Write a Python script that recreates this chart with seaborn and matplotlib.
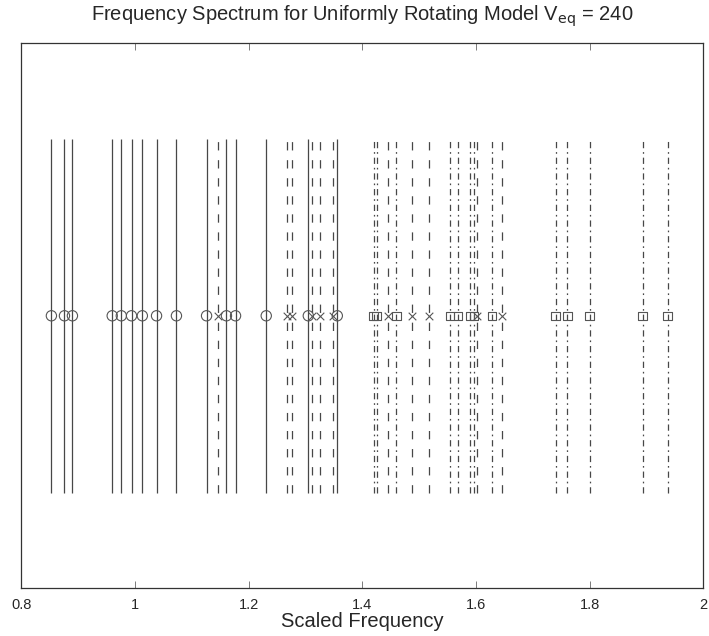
import matplotlib
matplotlib.use("Agg")
import matplotlib.pyplot as plt
import seaborn as sns

# Scaled mode frequencies, grouped by mode family
freq_circle = [0.853, 0.876, 0.890, 0.960, 0.976, 0.994, 1.013, 1.038,
               1.073, 1.126, 1.161, 1.177, 1.231, 1.305, 1.356]
freq_cross = [1.147, 1.267, 1.277, 1.312, 1.325, 1.348, 1.446, 1.487,
              1.518, 1.601, 1.645]
freq_square = [1.420, 1.425, 1.460, 1.554, 1.568, 1.589, 1.596, 1.628,
               1.740, 1.761, 1.800, 1.893, 1.937]

x_ticks = [0.8, 1.0, 1.2, 1.4, 1.6, 1.8, 2.0]
x_tick_labels = ["0.8", "1", "1.2", "1.4", "1.6", "1.8", "2"]

sns.set_style("white")
plt.rcParams["font.family"] = ["Liberation Sans", "DejaVu Sans"]
plt.rcParams["lines.scale_dashes"] = False

fig = plt.figure(figsize=(7.09, 6.36), dpi=100)
ax = fig.add_axes([0.030, 0.075, 0.962, 0.857])

line_color = "#474747"
edge_color = "#555555"

families = [
    (freq_circle, "-", "o", 55),
    (freq_cross, (0, (6.0, 7.0)), "x", 30),
    (freq_square, (0, (4.5, 2.8, 1.2, 2.8)), "s", 36),
]

for freqs, ls, marker, size in families:
    # vertical spectral line for each mode
    ax.vlines(freqs, -1, 1, colors=line_color, linewidth=0.9,
              linestyles=ls, zorder=2)
    ys = [0.0] * len(freqs)
    if marker == "x":
        sns.scatterplot(x=freqs, y=ys, marker="x", s=size, color=edge_color,
                        linewidth=0.8, ax=ax, legend=False, zorder=3)
    else:
        sns.scatterplot(x=freqs, y=ys, marker=marker, s=size,
                        facecolor="none", edgecolor=edge_color,
                        linewidth=0.8, ax=ax, legend=False, zorder=3)

ax.set_xlim(0.8, 2.0)
ax.set_ylim(-1.54, 1.54)
ax.set_xticks(x_ticks)
ax.set_xticklabels(x_tick_labels, fontsize=10.5)
ax.set_yticks([])
ax.tick_params(axis="x", direction="in", length=5, width=0.6, color="#666666",
               top=True, bottom=True, pad=7)
for sp in ax.spines.values():
    sp.set_visible(True)
    sp.set_color("#333333")
    sp.set_linewidth(0.9)

ax.set_xlabel("Scaled Frequency", fontsize=14.5, labelpad=0)
ax.set_ylabel("")
ax.set_title("Frequency Spectrum for Uniformly Rotating Model V$_{\\mathrm{eq}}$ = 240",
             fontsize=14.5, pad=16)

fig.savefig("out.png", dpi=100)
